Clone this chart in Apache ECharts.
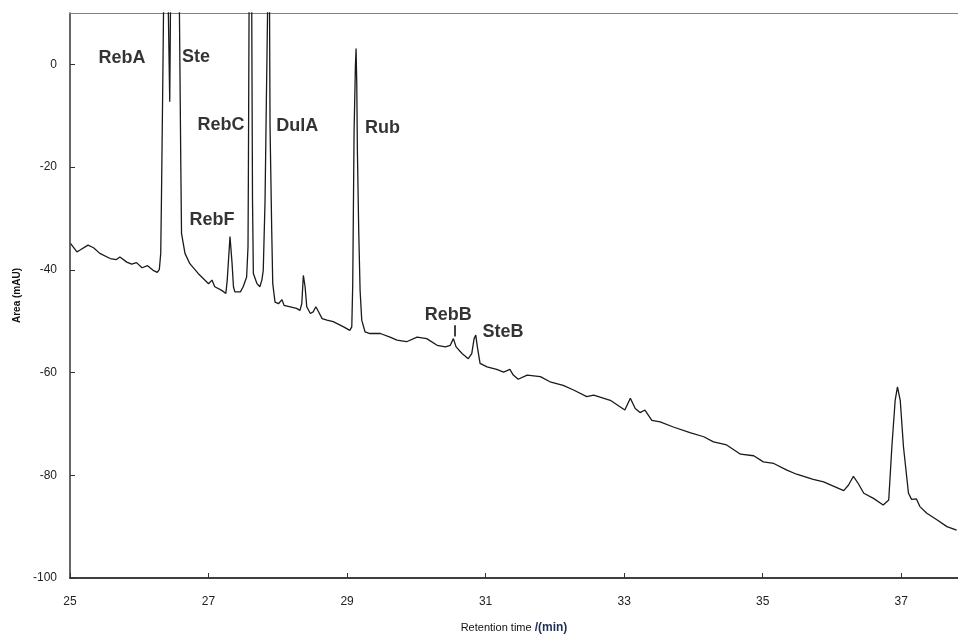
<!DOCTYPE html>
<html>
<head>
<meta charset="utf-8">
<script src="https://cdn.jsdelivr.net/npm/echarts@6/dist/echarts.min.js"></script>
<style>html,body{margin:0;padding:0;background:#fff}#c{width:958px;height:634px}</style>
</head>
<body>
<div id="c"></div>
<script>
const timeMin = [25.01,25.10,25.14,25.26,25.34,25.43,25.58,25.67,25.72,25.82,25.89,25.96,26.04,26.12,26.20,26.26,26.29,26.31,26.32,26.34,26.35,26.38,26.42,26.44,26.45,26.52,26.58,26.60,26.61,26.66,26.73,26.85,27.00,27.05,27.09,27.19,27.25,27.27,27.31,27.34,27.36,27.38,27.46,27.50,27.55,27.57,27.575,27.585,27.604,27.624,27.635,27.647,27.70,27.74,27.77,27.79,27.816,27.835,27.845,27.852,27.866,27.881,27.888,27.913,27.927,27.96,28.01,28.06,28.09,28.18,28.27,28.32,28.346,28.369,28.394,28.418,28.47,28.51,28.55,28.59,28.64,28.71,28.80,28.95,29.04,29.068,29.082,29.101,29.120,29.130,29.140,29.149,29.169,29.188,29.212,29.26,29.33,29.48,29.62,29.72,29.86,30.01,30.15,30.30,30.42,30.49,30.535,30.574,30.66,30.75,30.80,30.834,30.858,30.881,30.92,31.02,31.16,31.26,31.35,31.40,31.47,31.60,31.79,31.93,32.12,32.27,32.46,32.56,32.80,33.01,33.09,33.16,33.23,33.30,33.40,33.52,33.71,33.95,34.15,34.29,34.48,34.68,34.87,35.01,35.16,35.35,35.49,35.73,35.88,36.02,36.17,36.24,36.31,36.38,36.46,36.60,36.74,36.82,36.865,36.913,36.946,36.986,37.033,37.105,37.15,37.22,37.27,37.37,37.52,37.66,37.80];
const signal = [-34.9,-36.5,-36.2,-35.2,-35.7,-36.8,-37.8,-38.0,-37.5,-38.5,-38.9,-38.6,-39.6,-39.2,-40.1,-40.5,-39.9,-36.8,-26.5,-3.1,9.9,60,9.9,-7.3,9.9,50,9.9,-20.0,-32.9,-36.8,-38.8,-40.7,-42.7,-42.0,-43.3,-44.0,-44.6,-42.0,-33.5,-38.8,-43.3,-44.3,-44.3,-43.3,-41.4,-35.5,-22.6,9.9,60,9.9,-26.5,-40.7,-42.7,-43.3,-42.0,-40.1,-26.5,-7.0,2.7,9.9,40,9.9,-12.2,-32.9,-42.7,-46.3,-46.6,-45.8,-46.9,-47.2,-47.5,-47.9,-46.6,-41.1,-43.3,-47.2,-48.5,-48.2,-47.2,-48.2,-49.5,-49.8,-50.1,-51.1,-51.8,-51.1,-42.7,-13.4,-0.5,3.1,-3.8,-16.7,-32.9,-44.0,-49.8,-52.1,-52.4,-52.4,-53.1,-53.7,-54.0,-53.1,-53.4,-54.7,-55.0,-54.7,-53.4,-55.0,-56.3,-57.3,-56.3,-53.4,-52.7,-55.0,-58.2,-58.9,-59.4,-59.9,-59.4,-60.5,-61.3,-60.5,-60.8,-61.8,-62.5,-63.4,-64.7,-64.4,-65.4,-67.3,-65.0,-67.0,-67.8,-67.3,-69.3,-69.6,-70.6,-71.7,-72.5,-73.5,-74.1,-75.9,-76.2,-77.4,-77.7,-79.0,-79.8,-80.8,-81.3,-82.1,-83.0,-81.9,-80.2,-81.6,-83.5,-84.5,-85.8,-84.8,-74.5,-65.4,-62.8,-65.4,-74.5,-83.5,-84.7,-84.6,-86.1,-87.4,-88.7,-90.0,-90.7];
const peakNames = ['RebA','Ste','RebC','DulA','Rub','RebF','RebB','SteB'];
const peakLabelTime = [25.75,26.82,27.18,28.28,29.51,27.05,30.46,31.25];
const peakLabelSignal = [1.2,1.4,-11.9,-12.1,-12.3,-30.4,-48.8,-52.1];
const xTicks = [25,27,29,31,33,35,37];
const yTicks = [-100,-80,-60,-40,-20,0];

const chart = echarts.init(document.getElementById('c'), null, {renderer:'canvas'});
const tickFont = {fontFamily:'Liberation Sans', fontSize:12, color:'#222'};
chart.setOption({
  animation:false,
  backgroundColor:'#fff',
  grid:{left:70,right:0,top:13,bottom:56,containLabel:false,outerBoundsMode:'none'},
  xAxis:[{
    type:'value', min:25, max:37.82,
    name:'{a|Retention time }{b|/(min)}', nameLocation:'middle', nameGap:44,
    nameTextStyle:{rich:{a:{fontFamily:'Liberation Sans',fontSize:11,color:'#111'},b:{fontFamily:'Liberation Sans',fontSize:12,fontWeight:'bold',color:'#1f2f55'}}},
    axisLine:{show:true,onZero:false,lineStyle:{color:'#000',width:1.5}},
    axisTick:{show:true,inside:true,length:5,customValues:xTicks,lineStyle:{color:'#333'}},
    axisLabel:Object.assign({customValues:xTicks,margin:18},tickFont),
    splitLine:{show:false}
  },{
    type:'value', position:'top', min:25, max:37.82,
    axisLine:{show:true,onZero:false,lineStyle:{color:'#808080',width:1}},
    axisTick:{show:false}, axisLabel:{show:false}, splitLine:{show:false}
  }],
  yAxis:{
    type:'value', min:-100, max:10,
    name:'Area (mAU)', nameLocation:'middle', nameGap:48, nameRotate:90,
    nameTextStyle:{fontFamily:'Liberation Sans',fontSize:10,fontWeight:'bold',color:'#111'},
    axisLine:{show:true,onZero:false,lineStyle:{color:'#333',width:1.5}},
    axisTick:{show:true,inside:true,length:5,customValues:yTicks,lineStyle:{color:'#333'}},
    axisLabel:Object.assign({customValues:yTicks,margin:13},tickFont),
    splitLine:{show:false}
  },
  series:[{
    type:'line', data:timeMin.map((t,i)=>[t,signal[i]]),
    showSymbol:false, symbol:'none', clip:true,
    lineStyle:{color:'#1a1a1a',width:1.3}
  },{
    type:'scatter', symbolSize:0,
    data:peakNames.map((n,i)=>[peakLabelTime[i],peakLabelSignal[i],n]),
    label:{show:true,position:'inside',formatter:p=>p.data[2],fontFamily:'Liberation Sans',fontSize:18,fontWeight:'bold',color:'#000',textBorderWidth:0},
    markLine:{silent:true,symbol:'none',label:{show:false},lineStyle:{color:'#000',width:1.5,type:'solid'},
      data:[[{coord:[30.55,-50.8]},{coord:[30.55,-53.0]}]]}
  }]
});
</script>
</body>
</html>
